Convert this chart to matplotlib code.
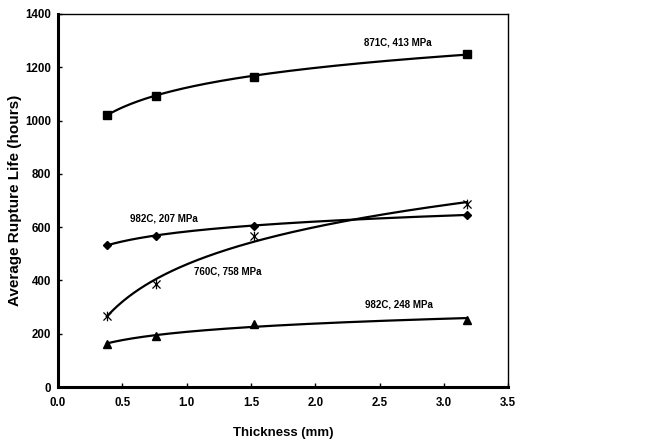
import numpy as np
import matplotlib
matplotlib.use("Agg")
import matplotlib.pyplot as plt
from matplotlib.path import Path

plt.rcParams['font.family'] = ['Liberation Sans', 'DejaVu Sans']
plt.rcParams['font.weight'] = 'bold'

thickness = [0.38, 0.76, 1.52, 3.18]
s871_413 = [1022, 1092, 1165, 1250]
s982_207 = [533, 567, 605, 647]
s760_758 = [268, 388, 567, 685]
s982_248 = [162, 192, 236, 253]

labels = ["871C, 413 MPa", "982C, 207 MPa", "760C, 758 MPa", "982C, 248 MPa"]
label_pos = [(2.64, 1291), (0.82, 634), (1.32, 432), (2.65, 308)]

# asterisk marker (x + vertical bar)
star = Path([(-1, -1), (1, 1), (-1, 1), (1, -1), (0, -1.2), (0, 1.2)],
            [Path.MOVETO, Path.LINETO, Path.MOVETO, Path.LINETO, Path.MOVETO, Path.LINETO])

series = [
    (s871_413, dict(marker='s', markersize=5.5, markerfacecolor='black', markeredgecolor='black')),
    (s982_207, dict(marker='D', markersize=4.5, markerfacecolor='black', markeredgecolor='black')),
    (s760_758, dict(marker=star, markersize=7, markerfacecolor='none', markeredgecolor='black', markeredgewidth=0.9)),
    (s982_248, dict(marker='^', markersize=6, markerfacecolor='black', markeredgecolor='black')),
]

fig = plt.figure(figsize=(6.45, 4.41), dpi=100)
ax = fig.add_axes([0.0899, 0.1224, 0.698, 0.846])

x = np.array(thickness)
xs = np.linspace(x.min(), x.max(), 200)
for ys, style in series:
    y = np.array(ys)
    a, b = np.polyfit(np.log(x), y, 1)
    ax.plot(xs, a * np.log(xs) + b, color='black', lw=1.6, zorder=2)
    ax.plot(x, y, linestyle='none', zorder=3, **style)

for txt, (lx, ly) in zip(labels, label_pos):
    ax.text(lx, ly, txt, ha='center', va='center', fontsize=7, fontweight='bold')

ax.set_xlim(0, 3.5)
ax.set_ylim(0, 1400)
ax.set_xticks(np.arange(0, 3.51, 0.5))
ax.set_xticklabels([f"{v:.1f}" for v in np.arange(0, 3.51, 0.5)])
ax.set_yticks(np.arange(0, 1401, 200))
ax.tick_params(direction='in', length=3, width=1, labelsize=8.3)
ax.tick_params(axis='x', pad=7)
ax.tick_params(axis='y', pad=5)
for lab in ax.get_xticklabels() + ax.get_yticklabels():
    lab.set_fontweight('bold')

ax.spines['left'].set_linewidth(2.2)
ax.spines['bottom'].set_linewidth(2.2)
ax.spines['top'].set_linewidth(1.0)
ax.spines['right'].set_linewidth(1.0)

ax.set_xlabel("Thickness (mm)", fontsize=9.5, fontweight='bold', labelpad=13)
ax.set_ylabel("Average Rupture Life (hours)", fontsize=11, fontweight='bold', labelpad=2)

fig.savefig("out.png", dpi=100)
